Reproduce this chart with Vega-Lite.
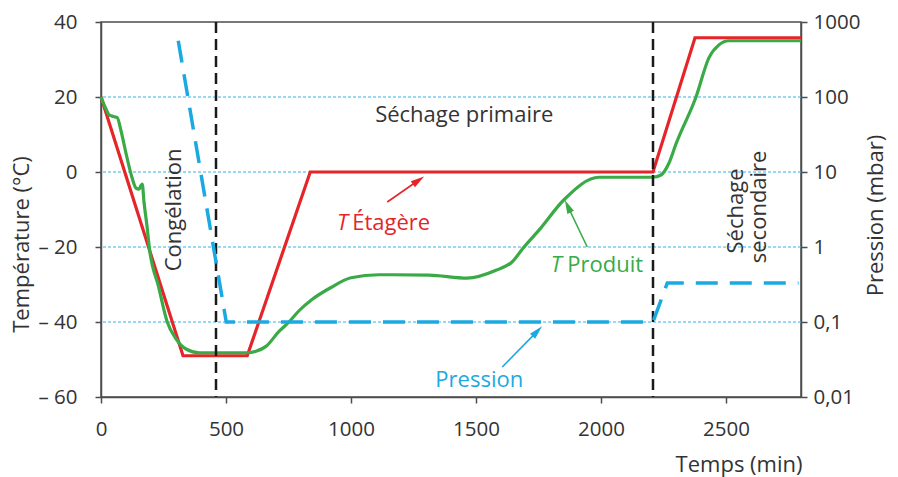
{
  "$schema": "https://vega.github.io/schema/vega-lite/v6.json",
  "width": 700,
  "height": 375,
  "autosize": "none",
  "padding": {"left": 101, "top": 22, "right": 97, "bottom": 80},
  "background": "white",
  "config": {
    "view": {"stroke": "#4d4d4d", "strokeWidth": 1.5},
    "font": "Open Sans",
    "axis": {
      "labelFont": "Open Sans", "titleFont": "Open Sans",
      "labelFontSize": 20.5, "titleFontSize": 22,
      "labelColor": "#333333", "titleColor": "#333333",
      "titleFontWeight": "normal",
      "domainColor": "#4d4d4d", "domainWidth": 1.5,
      "tickColor": "#4d4d4d", "tickWidth": 1.5, "tickSize": 6,
      "grid": false, "labelOverlap": false, "labelFlush": false
    }
  },
  "datasets": {
    "red": [
      {"t": 0, "T": 20}, {"t": 328, "T": -49}, {"t": 585, "T": -49}, {"t": 837, "T": 0},
      {"t": 2208, "T": 0}, {"t": 2376, "T": 35.8}, {"t": 2800, "T": 35.8}
    ],
    "green": [
      {"t": 0, "T": 20}, {"t": 20, "T": 16.8}, {"t": 33, "T": 15.2}, {"t": 50, "T": 14.8}, {"t": 65, "T": 14.5},
      {"t": 80, "T": 11}, {"t": 100, "T": 5}, {"t": 120, "T": -0.5}, {"t": 140, "T": -4.3}, {"t": 152, "T": -4.6},
      {"t": 160, "T": -3.6}, {"t": 165, "T": -3.2}, {"t": 172, "T": -8}, {"t": 185, "T": -15}, {"t": 193, "T": -20},
      {"t": 230, "T": -30.5}, {"t": 265, "T": -40}, {"t": 300, "T": -44.5}, {"t": 340, "T": -47.2}, {"t": 393, "T": -48.2},
      {"t": 585, "T": -48.2}, {"t": 620, "T": -47.8}, {"t": 660, "T": -46.5}, {"t": 712, "T": -42.5}, {"t": 752, "T": -40},
      {"t": 792, "T": -37}, {"t": 844, "T": -34}, {"t": 920, "T": -30.8}, {"t": 1000, "T": -28.2}, {"t": 1112, "T": -27.4},
      {"t": 1312, "T": -27.5}, {"t": 1464, "T": -28.3}, {"t": 1580, "T": -26.2}, {"t": 1644, "T": -24}, {"t": 1692, "T": -20},
      {"t": 1752, "T": -15.5}, {"t": 1852, "T": -7.4}, {"t": 1992, "T": -1.4}, {"t": 2208, "T": -1.4}, {"t": 2240, "T": -0.8},
      {"t": 2272, "T": 2.4}, {"t": 2300, "T": 7.5}, {"t": 2380, "T": 20}, {"t": 2432, "T": 30.5}, {"t": 2472, "T": 33.9},
      {"t": 2512, "T": 35}, {"t": 2800, "T": 35}
    ],
    "press": [
      {"t": 309, "p": 562}, {"t": 501, "p": 0.1}, {"t": 2208, "p": 0.1}, {"t": 2265, "p": 0.33}, {"t": 2790, "p": 0.33}
    ],
    "grid": [{"T": 20}, {"T": 0}, {"T": -20}, {"T": -40}],
    "vlines": [{"t": 460}, {"t": 2208}],
    "centerText": [
      {"t": 1453, "T": 15.2, "text": "Séchage primaire", "color": "#333333", "angle": 0},
      {"t": 293, "T": -10.1, "text": "Congélation", "color": "#333333", "angle": 270},
      {"t": 2541, "T": -10.4, "text": "Séchage", "color": "#333333", "angle": 270},
      {"t": 2633, "T": -9.3, "text": "secondaire", "color": "#333333", "angle": 270},
      {"t": 1513, "T": -55.5, "text": "Pression", "color": "#1ba9e1", "angle": 0}
    ],
    "leftText": [
      {"t": 1005, "T": -13.6, "text": "Étagère", "color": "#e52529"},
      {"t": 1865, "T": -24.8, "text": "Produit", "color": "#3aaa47"}
    ],
    "italicText": [
      {"t": 966, "T": -13.6, "text": "T", "color": "#e52529"},
      {"t": 1821, "T": -24.8, "text": "T", "color": "#3aaa47"}
    ],
    "arrows": [
      {"t": 1145, "T": -8.0, "t2": 1266, "T2": -2.4, "color": "#e52529"},
      {"t": 1945, "T": -20, "t2": 1869, "T2": -9.4, "color": "#3aaa47"},
      {"t": 1605, "T": -52, "t2": 1742, "T2": -42.7, "color": "#1ba9e1"}
    ],
    "heads": [
      {"t": 1266, "T": -2.4, "angle": 55, "color": "#e52529"},
      {"t": 1869, "T": -9.4, "angle": 335, "color": "#3aaa47"},
      {"t": 1742, "T": -42.7, "angle": 44, "color": "#1ba9e1"}
    ]
  },
  "layer": [
    {
      "layer": [
        {
          "data": {"name": "grid"},
          "mark": {"type": "rule", "color": "#35b3ea", "strokeWidth": 1.2, "strokeDash": [3, 2]},
          "encoding": {
            "y": {"field": "T", "type": "quantitative", "scale": {"domain": [-60, 40], "nice": false}}
          }
        },
        {
          "data": {"name": "red"},
          "mark": {"type": "line", "color": "#e52529", "strokeWidth": 3.2},
          "encoding": {
            "x": {"field": "t", "type": "quantitative", "scale": {"domain": [0, 2800], "nice": false},
              "axis": {"values": [0, 500, 1000, 1500, 2000, 2500], "format": "d", "title": "Temps (min)", "labelPadding": 16,
                "titleAlign": "right", "titleAnchor": "end", "titleX": 701, "titleY": 67, "titleBaseline": "middle"}},
            "y": {"field": "T", "type": "quantitative", "scale": {"domain": [-60, 40], "nice": false},
              "axis": {"values": [-60, -40, -20, 0, 20, 40], "title": "Température (°C)",
                "labelExpr": "datum.value < 0 ? '– ' + abs(datum.value) : '' + datum.value",
                "labelPadding": 18, "titleX": -80, "titleY": 222, "titleAngle": 270, "titleBaseline": "middle", "titleAlign": "center"}}
          }
        },
        {
          "data": {"name": "green"},
          "mark": {"type": "line", "color": "#3aaa47", "strokeWidth": 3.2, "interpolate": "monotone"},
          "encoding": {
            "x": {"field": "t", "type": "quantitative", "scale": {"domain": [0, 2800], "nice": false}},
            "y": {"field": "T", "type": "quantitative", "scale": {"domain": [-60, 40], "nice": false}}
          }
        },
        {
          "data": {"name": "vlines"},
          "mark": {"type": "rule", "color": "#1a1a1a", "strokeWidth": 2.5, "strokeDash": [11, 6]},
          "encoding": {
            "x": {"field": "t", "type": "quantitative", "scale": {"domain": [0, 2800], "nice": false}}
          }
        },
        {
          "data": {"name": "arrows"},
          "mark": {"type": "rule", "strokeWidth": 1.6},
          "encoding": {
            "x": {"field": "t", "type": "quantitative", "scale": {"domain": [0, 2800], "nice": false}},
            "y": {"field": "T", "type": "quantitative", "scale": {"domain": [-60, 40], "nice": false}},
            "x2": {"field": "t2"},
            "y2": {"field": "T2"},
            "color": {"field": "color", "type": "nominal", "scale": null}
          }
        },
        {
          "data": {"name": "heads"},
          "mark": {"type": "point", "filled": true, "opacity": 1, "size": 260, "shape": "M0,-1L0.45,0.7L-0.45,0.7Z"},
          "encoding": {
            "x": {"field": "t", "type": "quantitative", "scale": {"domain": [0, 2800], "nice": false}},
            "y": {"field": "T", "type": "quantitative", "scale": {"domain": [-60, 40], "nice": false}},
            "angle": {"field": "angle", "type": "quantitative", "scale": null},
            "color": {"field": "color", "type": "nominal", "scale": null}
          }
        },
        {
          "data": {"name": "centerText"},
          "mark": {"type": "text", "fontSize": 22, "align": "center", "baseline": "middle", "font": "Open Sans"},
          "encoding": {
            "x": {"field": "t", "type": "quantitative", "scale": {"domain": [0, 2800], "nice": false}},
            "y": {"field": "T", "type": "quantitative", "scale": {"domain": [-60, 40], "nice": false}},
            "text": {"field": "text"},
            "angle": {"field": "angle", "type": "quantitative", "scale": null},
            "color": {"field": "color", "type": "nominal", "scale": null}
          }
        },
        {
          "data": {"name": "leftText"},
          "mark": {"type": "text", "fontSize": 22, "align": "left", "baseline": "middle", "font": "Open Sans"},
          "encoding": {
            "x": {"field": "t", "type": "quantitative", "scale": {"domain": [0, 2800], "nice": false}},
            "y": {"field": "T", "type": "quantitative", "scale": {"domain": [-60, 40], "nice": false}},
            "text": {"field": "text"},
            "color": {"field": "color", "type": "nominal", "scale": null}
          }
        },
        {
          "data": {"name": "italicText"},
          "mark": {"type": "text", "fontSize": 22, "align": "center", "baseline": "middle", "font": "Open Sans", "fontStyle": "italic"},
          "encoding": {
            "x": {"field": "t", "type": "quantitative", "scale": {"domain": [0, 2800], "nice": false}},
            "y": {"field": "T", "type": "quantitative", "scale": {"domain": [-60, 40], "nice": false}},
            "text": {"field": "text"},
            "color": {"field": "color", "type": "nominal", "scale": null}
          }
        }
      ]
    },
    {
      "data": {"name": "press"},
      "mark": {"type": "line", "color": "#1ba9e1", "strokeWidth": 3.5, "strokeDash": [22, 12]},
      "encoding": {
        "x": {"field": "t", "type": "quantitative", "scale": {"domain": [0, 2800], "nice": false}},
        "y": {"field": "p", "type": "quantitative", "scale": {"type": "log", "domain": [0.01, 1000], "nice": false},
          "axis": {"orient": "right", "values": [0.01, 0.1, 1, 10, 100, 1000], "title": "Pression (mbar)",
            "labelExpr": "replace(toString(datum.value), '.', ',')", "labelPadding": 6,
            "titleX": 74, "titleY": 193, "titleAngle": 270, "titleBaseline": "middle", "titleAlign": "center"}}
      }
    }
  ],
  "resolve": {"scale": {"y": "independent"}}
}
